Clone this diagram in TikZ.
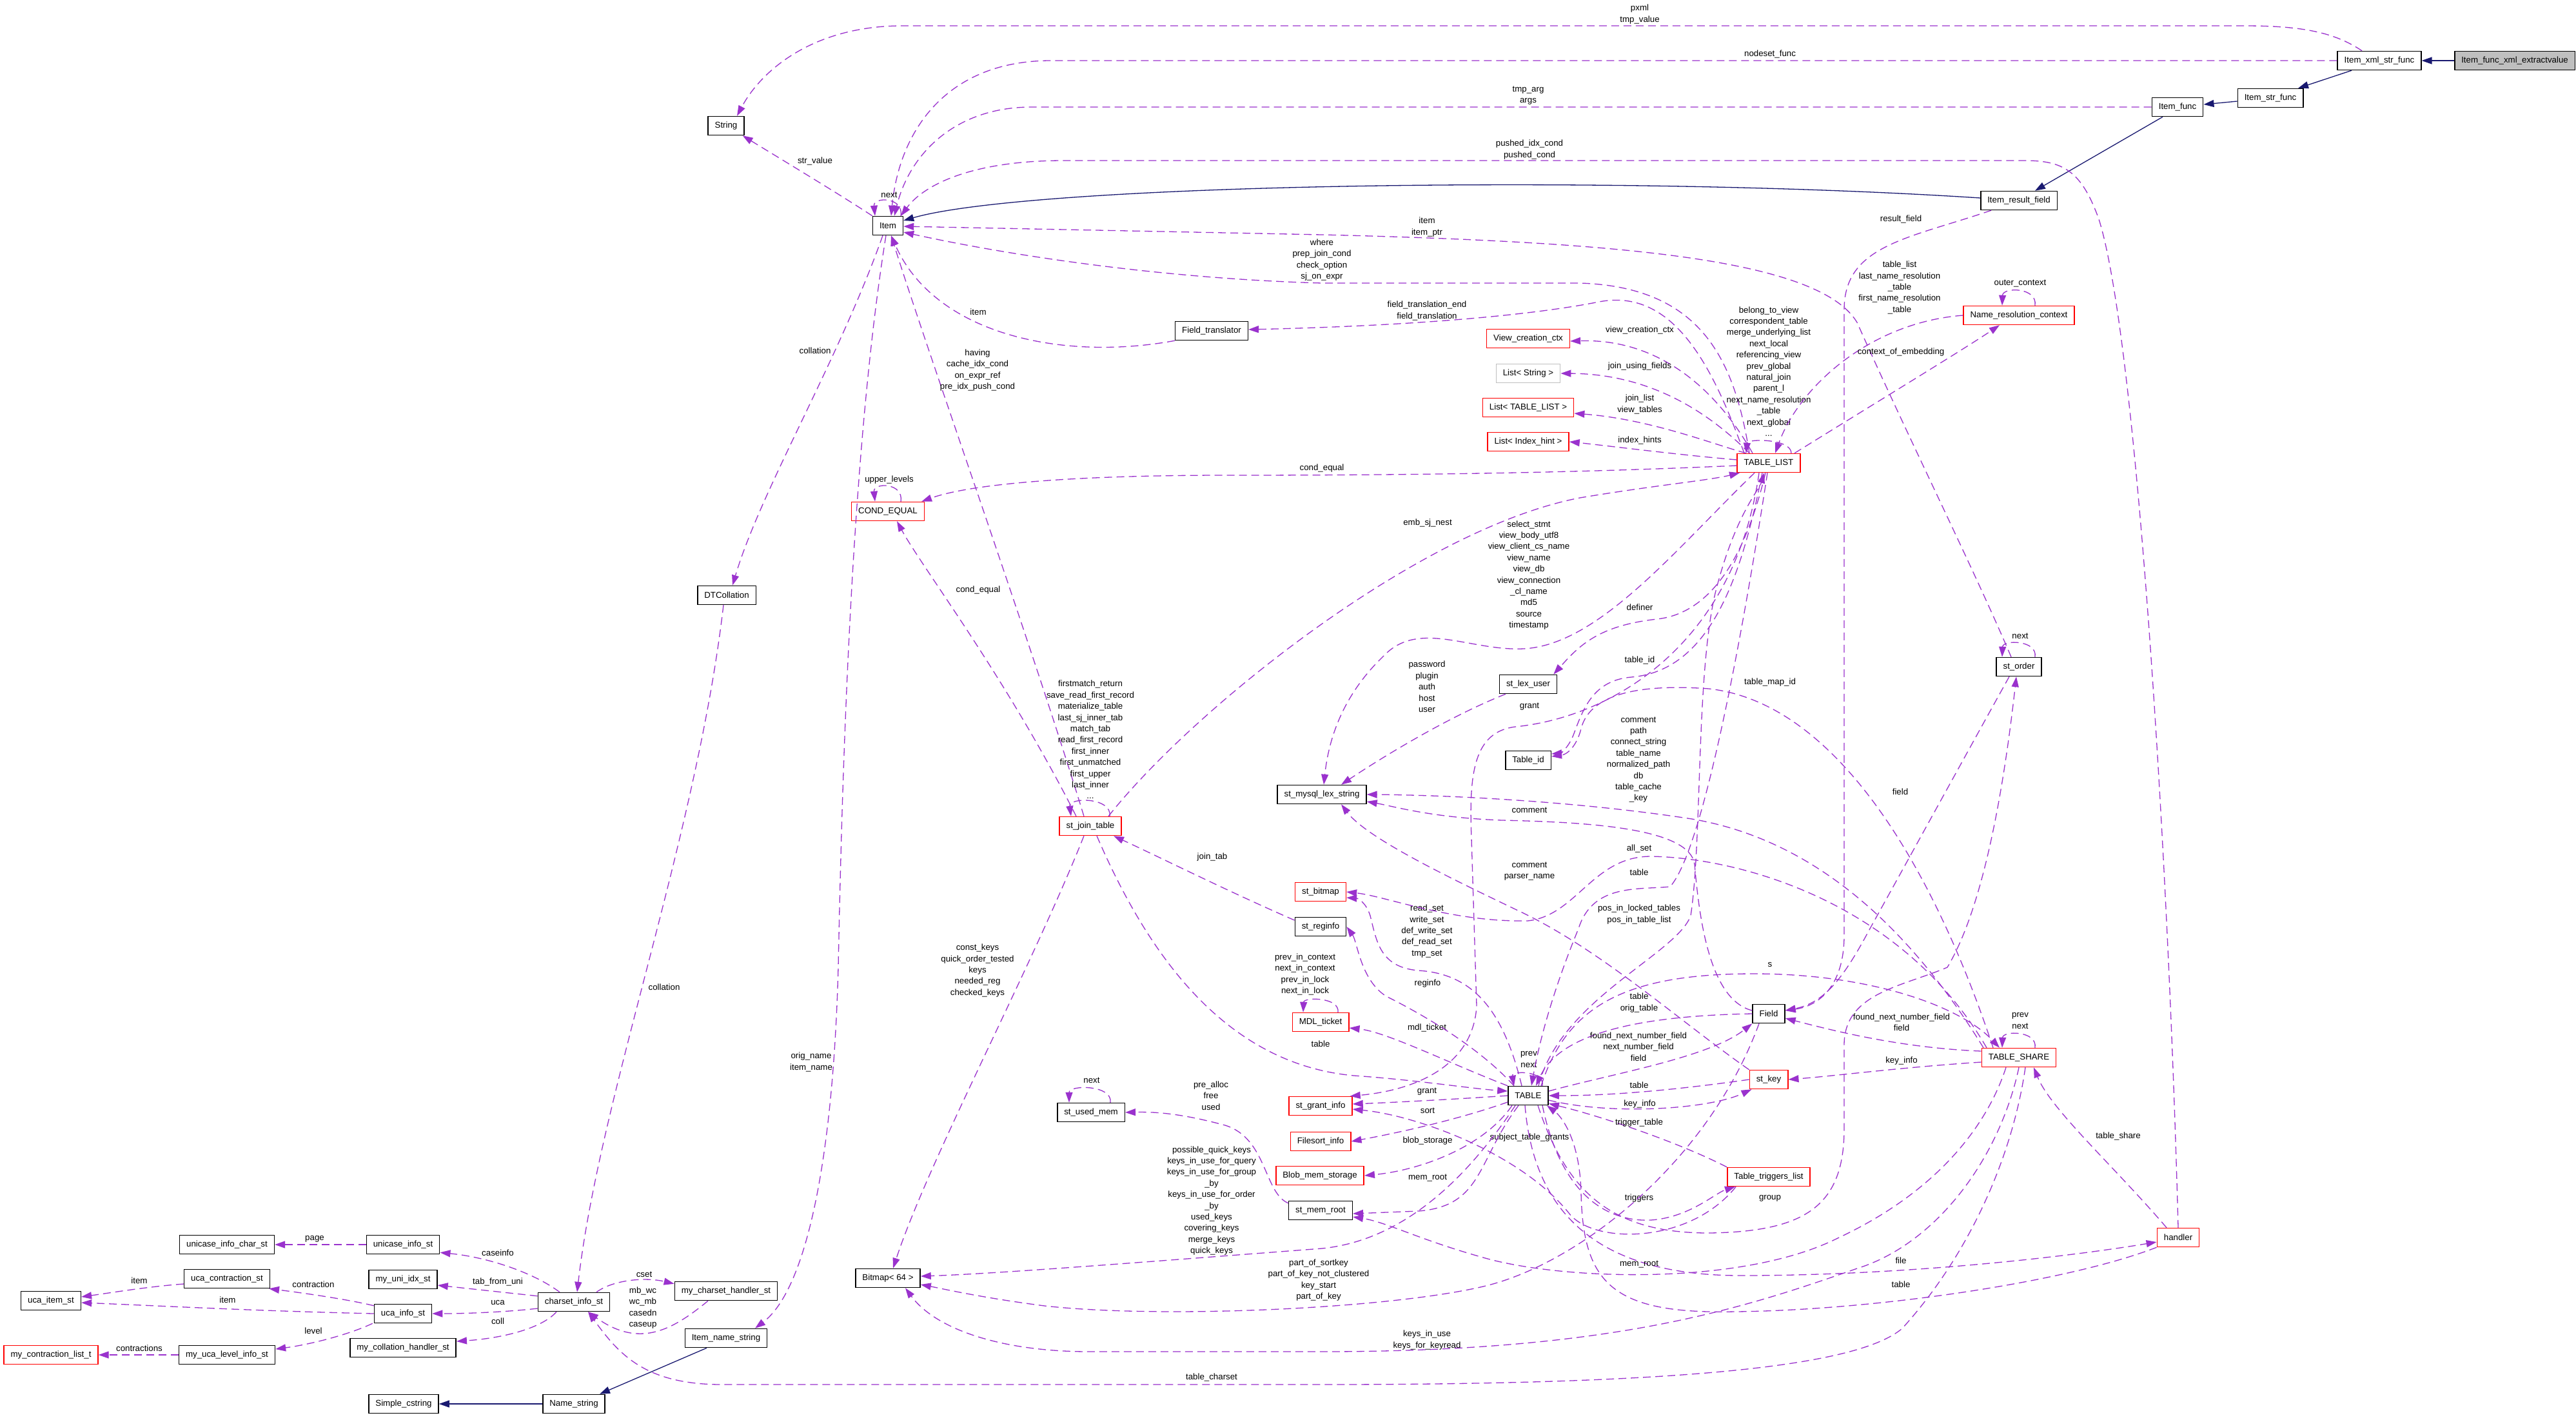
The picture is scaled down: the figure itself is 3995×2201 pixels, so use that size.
\documentclass[tikz,border=0pt]{standalone}
\usepackage{fontspec}
\setmainfont{Liberation Sans}
\usetikzlibrary{arrows.meta}
\definecolor{usec}{HTML}{9A32CD}
\definecolor{inhc}{HTML}{191970}
\definecolor{redc}{HTML}{FF0000}
\definecolor{grayc}{HTML}{BFBFBF}
\begin{document}
\begin{tikzpicture}[x=1pt,y=-1pt,
 every node/.style={font=\fontsize{13.3}{17.4}\selectfont},
 cls/.style={draw=black, fill=white, line width=1.5pt, minimum height=29pt, inner xsep=10.5pt, inner ysep=0pt},
 redcls/.style={cls, draw=redc},
 graycls/.style={cls, draw=grayc},
 rootcls/.style={cls, fill=grayc},
 lab/.style={align=center, inner sep=0pt, text=black},
 usage/.style={draw=usec, line width=1.3pt, dash pattern=on 12pt off 7pt, -{Triangle[length=16pt,width=11pt]}},
 inh/.style={draw=inhc, line width=1.3pt, -{Triangle[length=16pt,width=11pt]}},
]
\fill[white] (0,0) rectangle (3995,2201);
\useasboundingbox (0,0) rectangle (3995,2201);

% ---------------- nodes ----------------
\node[rootcls] (xmlext) at (3900,94) {Item\_func\_xml\_extractvalue};
\node[cls] (xmlstr) at (3690,94) {Item\_xml\_str\_func};
\node[cls] (strfunc) at (3521,152) {Item\_str\_func};
\node[cls] (func) at (3377,166) {Item\_func};
\node[cls] (resfield) at (3131,311) {Item\_result\_field};
\node[redcls] (nrc) at (3131,489) {Name\_resolution\_context};
\node[cls] (string) at (1126,195) {String};
\node[cls] (item) at (1377,350) {Item};
\node[cls] (ftrans) at (1879,513) {Field\_translator};
\node[redcls] (vcc) at (2370,525) {View\_creation\_ctx};
\node[graycls] (lstr) at (2370,579) {List< String >};
\node[redcls] (ltl) at (2370,632) {List< TABLE\_LIST >};
\node[redcls] (lih) at (2370,685) {List< Index\_hint >};
\node[redcls] (tl) at (2743,718) {TABLE\_LIST};
\node[redcls] (condeq) at (1377,793) {COND\_EQUAL};
\node[cls] (dtc) at (1127,923) {DTCollation};
\node[redcls] (sjt) at (1691,1281) {st\_join\_table};
\node[cls] (lexuser) at (2370,1061) {st\_lex\_user};
\node[cls] (tableid) at (2370,1179) {Table\_id};
\node[cls] (lexstr) at (2050,1232) {st\_mysql\_lex\_string};
\node[redcls] (bitmap) at (2048,1383) {st\_bitmap};
\node[cls] (reginfo) at (2048,1437) {st\_reginfo};
\node[redcls] (mdl) at (2048,1585) {MDL\_ticket};
\node[redcls] (grantinfo) at (2048,1715) {st\_grant\_info};
\node[redcls] (filesort) at (2048,1770) {Filesort\_info};
\node[redcls] (blob) at (2047,1823) {Blob\_mem\_storage};
\node[cls] (memroot) at (2048,1877) {st\_mem\_root};
\node[cls] (usedmem) at (1692,1725) {st\_used\_mem};
\node[cls] (bitmap64) at (1377,1982) {Bitmap< 64 >};
\node[cls] (mycsh) at (1126,2002) {my\_charset\_handler\_st};
\node[cls] (itemname) at (1126,2075) {Item\_name\_string};
\node[cls] (namestr) at (890,2177) {Name\_string};
\node[cls] (simplec) at (626,2177) {Simple\_cstring};
\node[cls] (csinfo) at (890,2019) {charset\_info\_st};
\node[cls] (unicase) at (625,1930) {unicase\_info\_st};
\node[cls] (unicasechar) at (352,1930) {unicase\_info\_char\_st};
\node[cls] (uniidx) at (625,1984) {my\_uni\_idx\_st};
\node[cls] (ucacontr) at (352,1983) {uca\_contraction\_st};
\node[cls] (ucaitem) at (79,2017) {uca\_item\_st};
\node[cls] (ucainfo) at (625,2037) {uca\_info\_st};
\node[cls] (mycoll) at (625,2090) {my\_collation\_handler\_st};
\node[cls] (ucalevel) at (352,2101) {my\_uca\_level\_info\_st};
\node[redcls] (contrlist) at (79,2101) {my\_contraction\_list\_t};
\node[cls] (order) at (3131,1034) {st\_order};
\node[cls] (field) at (2743,1572) {Field};
\node[redcls] (stkey) at (2743,1674) {st\_key};
\node[redcls] (trig) at (2743,1825) {Table\_triggers\_list};
\node[cls] (table) at (2370,1699) {TABLE};
\node[redcls] (tshare) at (3131,1640) {TABLE\_SHARE};
\node[redcls] (handler) at (3378,1919) {handler};

% ---------------- inheritance ----------------
\draw[inh] (xmlext.west) -- (xmlstr.east);
\draw[inh] ([xshift=-43pt]xmlstr.south) -- ([xshift=43pt]strfunc.north);
\draw[inh] ([yshift=-5pt]strfunc.west) -- ([yshift=4pt]func.east);
\draw[inh] ([xshift=-23pt]func.south) -- ([xshift=25pt]resfield.north);
\draw[inh] ([yshift=4pt]resfield.west) .. controls (2500,270) and (1600,285) .. ([yshift=8pt]item.east);
\draw[inh] ([xshift=-30pt]itemname.south) -- ([xshift=40pt]namestr.north);
\draw[inh] (namestr.west) -- (simplec.east);

% ---------------- usage ----------------
\draw[usage] ([xshift=-27pt]xmlstr.north) .. controls (3620,50) and (3570,40) .. (3480,40) -- (1400,40) .. controls (1260,40) and (1180,110) .. ([xshift=17pt]string.north);
\node[lab] (l1) at (2543,22) {pxml\\tmp\_value};

\draw[usage] (xmlstr.west) -- (1630,94) .. controls (1470,94) and (1395,200) .. ([xshift=5pt]item.north);
\node[lab] (l2) at (2745,84) {nodeset\_func};

\draw[usage] (func.west) -- (1600,166) .. controls (1480,166) and (1410,240) .. ([xshift=10pt]item.north);
\node[lab] (l3) at (2370,148) {tmp\_arg\\args};

\draw[usage] (handler.north) .. controls (3362,1300) and (3312,520) .. (3255,340) .. controls (3228,265) and (3200,249) .. (3140,249) -- (1650,249) .. controls (1500,249) and (1430,290) .. ([xshift=-4pt]item.north east);
\node[lab] (l4) at (2372,232) {pushed\_idx\_cond\\pushed\_cond};

\draw[usage] ([xshift=-30pt]tl.north) .. controls (2690,560) and (2640,445) .. (2450,439) -- (2050,439) .. controls (1800,432) and (1560,395) .. ([yshift=-10pt]item.east);
\node[lab] (l5) at (2050,403) {where\\prep\_join\_cond\\check\_option\\sj\_on\_expr};

\draw[usage] ([xshift=-12pt]order.north) .. controls (3060,880) and (2960,680) .. (2880,500) .. controls (2820,400) and (2500,375) .. (2050,364) -- ([yshift=-1pt]item.east);
\node[lab] (l6) at (2213,352) {item\\item\_ptr};

\draw[usage] (ftrans.south west) .. controls (1650,560) and (1450,520) .. ([xshift=5pt]item.south);
\node[lab] (l7) at (1517,484) {item};

\draw[usage] ([xshift=-38pt]tl.north) .. controls (2660,580) and (2600,445) .. (2480,468) .. controls (2380,488) and (2200,505) .. ([yshift=2pt]ftrans.east);
\node[lab] (l8) at (2213,482) {field\_translation\_end\\field\_translation};

\draw[usage] ([xshift=-10pt]sjt.north) .. controls (1600,1000) and (1440,550) .. ([xshift=5pt]item.south);
\node[lab] (l9) at (1516,574) {having\\cache\_idx\_cond\\on\_expr\_ref\\pre\_idx\_push\_cond};

\draw[usage] ([xshift=-8pt]item.south) .. controls (1300,560) and (1180,760) .. ([xshift=9pt]dtc.north);
\node[lab] (l10) at (1264,544) {collation};

\draw[usage] ([xshift=20pt]item.north) .. controls (1402,305) and (1354,305) .. ([xshift=-20pt]item.north);
\node[lab] (l11) at (1379,302) {next};

\draw[usage] ([xshift=20pt]condeq.north) .. controls (1402,748) and (1354,748) .. ([xshift=-20pt]condeq.north);
\node[lab] (l12) at (1379,744) {upper\_levels};

\draw[usage] ([yshift=-4pt]tl.west) .. controls (2450,733) and (2200,737) .. (1900,737) .. controls (1650,737) and (1500,752) .. ([xshift=-5pt]condeq.north east);
\node[lab] (l13) at (2050,726) {cond\_equal};

\draw[usage] ([xshift=-22pt]sjt.north) .. controls (1560,1050) and (1430,880) .. ([xshift=14pt]condeq.south);
\node[lab] (l14) at (1517,915) {cond\_equal};

\draw[usage] ([xshift=28pt]sjt.north) .. controls (1850,1100) and (2200,820) .. (2450,772) .. controls (2570,752) and (2650,745) .. ([xshift=-45pt]tl.south);
\node[lab] (l15) at (2214,811) {emb\_sj\_nest};

\draw[usage] ([xshift=30pt]sjt.north) .. controls (1725,1236) and (1657,1236) .. ([xshift=-30pt]sjt.north);
\node[lab] (l16) at (1691,1147) {firstmatch\_return\\save\_read\_first\_record\\materialize\_table\\last\_sj\_inner\_tab\\match\_tab\\read\_first\_record\\first\_inner\\first\_unmatched\\first\_upper\\last\_inner\\...};

\draw[usage] ([yshift=10pt]reginfo.west) .. controls (1900,1380) and (1800,1330) .. ([xshift=36pt]sjt.south);
\node[lab] (l17) at (1880,1329) {join\_tab};

\draw[usage] ([xshift=10pt]sjt.south) .. controls (1780,1480) and (1900,1650) .. (2100,1668) .. controls (2200,1675) and (2280,1688) .. ([yshift=7pt]table.west);
\node[lab] (l18) at (2048,1619) {table};

\draw[usage] ([xshift=-10pt]sjt.south) .. controls (1600,1500) and (1440,1800) .. ([xshift=8pt]bitmap64.north);
\node[lab] (l19) at (1516,1505) {const\_keys\\quick\_order\_tested\\keys\\needed\_reg\\checked\_keys};

\draw[usage] ([xshift=-3pt]item.south) .. controls (1320,700) and (1306,1200) .. (1300,1500) .. controls (1292,1800) and (1250,2000) .. ([xshift=45pt]itemname.north);
\node[lab] (l20) at (1258,1647) {orig\_name\\item\_name};

\draw[usage] ([xshift=-5pt]dtc.south) .. controls (1080,1300) and (930,1700) .. ([xshift=5pt]csinfo.north);
\node[lab] (l21) at (1030,1531) {collation};

\draw[usage] (item.north west) .. controls (1300,300) and (1200,240) .. ([xshift=-3pt]string.south east);
\node[lab] (l22) at (1264,250) {str\_value};

\draw[usage] ([xshift=35pt]csinfo.north) .. controls (950,1985) and (1000,1980) .. ([yshift=-4pt]mycsh.north west);
\node[lab] (l23) at (999,1976) {cset};

\draw[usage] ([xshift=-28pt]mycsh.south) .. controls (1040,2065) and (990,2090) .. ([xshift=22pt]csinfo.south);
\node[lab] (l24) at (997,2028) {mb\_wc\\wc\_mb\\casedn\\caseup};

\draw[usage] ([xshift=10pt]tshare.south) .. controls (3120,1800) and (3050,1950) .. (2950,2060) .. controls (2880,2120) and (2600,2147) .. (2050,2147) -- (1120,2147) .. controls (1000,2147) and (960,2100) .. ([xshift=22pt]csinfo.south);
\node[lab] (l25) at (1879,2136) {table\_charset};

\draw[usage] ([xshift=-22pt]csinfo.north) .. controls (830,1975) and (760,1950) .. ([yshift=3pt]unicase.south east);
\node[lab] (l26) at (772,1943) {caseinfo};

\draw[usage] (unicase.west) -- (unicasechar.east);
\node[lab] (l27) at (488,1921) {page};

\draw[usage] ([yshift=-6pt]csinfo.north west) -- ([yshift=-9pt]uniidx.east);
\node[lab] (l28) at (772,1988) {tab\_from\_uni};

\draw[usage] ([yshift=-10pt]csinfo.west) .. controls (780,2035) and (720,2037) .. (ucainfo.east);
\node[lab] (l29) at (772,2020) {uca};

\draw[usage] ([xshift=-27pt]csinfo.south) .. controls (840,2060) and (780,2075) .. ([yshift=10pt]mycoll.east);
\node[lab] (l30) at (772,2049) {coll};

\draw[usage] ([yshift=-3pt]ucainfo.north west) .. controls (540,2015) and (470,2005) .. ([xshift=-2pt]ucacontr.south east);
\node[lab] (l31) at (486,1992) {contraction};

\draw[usage] (ucainfo.west) .. controls (400,2033) and (250,2025) .. ([yshift=-3pt]ucaitem.east);
\node[lab] (l32) at (353,2016) {item};

\draw[usage] ([yshift=-8pt]ucacontr.west) .. controls (230,1995) and (170,2005) .. ([yshift=6pt]ucaitem.east);
\node[lab] (l33) at (216,1986) {item};

\draw[usage] ([xshift=-2pt]ucainfo.south west) .. controls (540,2070) and (480,2085) .. ([yshift=9pt]ucalevel.east);
\node[lab] (l34) at (486,2064) {level};

\draw[usage] (ucalevel.west) -- (contrlist.east);
\node[lab] (l35) at (216,2091) {contractions};

\draw[usage] ([xshift=35pt]tl.north) .. controls (2778,680) and (2710,680) .. ([xshift=-35pt]tl.north);
\node[lab] (l38) at (2743,576) {belong\_to\_view\\correspondent\_table\\merge\_underlying\_list\\next\_local\\referencing\_view\\prev\_global\\natural\_join\\parent\_l\\next\_name\_resolution\\\_table\\next\_global\\...};

\draw[usage] ([xshift=-25pt]tl.north) .. controls (2660,600) and (2570,525) .. ([yshift=-4pt]vcc.east);
\node[lab] (l39) at (2543,512) {view\_creation\_ctx};

\draw[usage] ([xshift=-30pt]tl.north) .. controls (2660,650) and (2570,580) .. (lstr.east);
\node[lab] (l40) at (2543,568) {join\_using\_fields};

\draw[usage] ([xshift=-35pt]tl.north) .. controls (2660,690) and (2560,650) .. ([yshift=-9pt]ltl.east);
\node[lab] (l41) at (2543,627) {join\_list\\view\_tables};

\draw[usage] ([yshift=5pt]tl.west) .. controls (2600,705) and (2500,692) .. (lih.east);
\node[lab] (l42) at (2543,683) {index\_hints};

\draw[usage] (nrc.west) .. controls (2900,500) and (2790,600) .. ([xshift=10pt]tl.north);
\node[lab] (l43) at (2946,446) {table\_list\\last\_name\_resolution\\\_table\\first\_name\_resolution\\\_table};

\draw[usage] ([xshift=40pt]tl.north) .. controls (2900,630) and (3040,545) .. ([xshift=-30pt]nrc.south);
\node[lab] (l44) at (2948,546) {context\_of\_embedding};

\draw[usage] ([xshift=25pt]nrc.north) .. controls (3160,445) and (3106,445) .. ([xshift=-26pt]nrc.north);
\node[lab] (l45) at (3133,440) {outer\_context};

\draw[usage] ([xshift=-43pt]resfield.south) .. controls (2960,370) and (2860,380) .. (2860,480) -- (2860,1450) .. controls (2860,1530) and (2820,1560) .. ([yshift=5pt]field.east);
\node[lab] (l46) at (2948,340) {result\_field};

\draw[usage] ([xshift=-15pt]order.south) .. controls (3060,1150) and (2950,1350) .. (2900,1440) .. controls (2860,1515) and (2830,1555) .. ([yshift=5pt]field.east);
\node[lab] (l47) at (2947,1228) {field};

\draw[usage] ([yshift=10pt]tshare.west) .. controls (2950,1625) and (2850,1600) .. ([yshift=-7pt]field.east);
\node[lab] (l48) at (2949,1585) {found\_next\_number\_field\\field};

\draw[usage] ([xshift=25pt]order.north) .. controls (3160,992) and (3106,992) .. ([xshift=-26pt]order.north);
\node[lab] (l49) at (3133,986) {next};

\draw[usage] ([xshift=15pt]table.south) .. controls (2430,1850) and (2500,1912) .. (2650,1912) .. controls (2800,1910) and (2860,1870) .. (2860,1750) -- (2860,1620) .. controls (2860,1540) and (2950,1530) .. (3020,1500) .. controls (3080,1400) and (3110,1200) .. ([xshift=-4pt]order.south);
\node[lab] (l50) at (2745,1858) {group};

\draw[usage] ([xshift=20pt]table.north) .. controls (2430,1560) and (2520,1510) .. (2720,1510) .. controls (2900,1510) and (3040,1560) .. ([xshift=-30pt]tshare.north);
\node[lab] (l51) at (2745,1496) {s};

\draw[usage] ([xshift=25pt]tshare.north) .. controls (3160,1598) and (3106,1598) .. ([xshift=-26pt]tshare.north);
\node[lab] (l52) at (3133,1583) {prev\\next};

\draw[usage] ([xshift=22pt]table.north) .. controls (2396,1660) and (2344,1660) .. ([xshift=-22pt]table.north);
\node[lab] (l53) at (2371,1643) {prev\\next};

\draw[usage] (field.west) .. controls (2550,1575) and (2420,1600) .. ([xshift=12pt]table.north);
\node[lab] (l54) at (2542,1555) {table\\orig\_table};

\draw[usage] ([yshift=7pt]table.east) .. controls (2500,1665) and (2650,1640) .. (field.south west);
\node[lab] (l55) at (2541,1623) {found\_next\_number\_field\\next\_number\_field\\field};

\draw[usage] (stkey.west) .. controls (2600,1690) and (2500,1699) .. (table.east);
\node[lab] (l56) at (2542,1683) {table};

\draw[usage] ([yshift=-7pt]table.east) .. controls (2500,1730) and (2650,1720) .. ([xshift=4pt]stkey.south west);
\node[lab] (l57) at (2543,1712) {key\_info};

\draw[usage] ([yshift=-7pt]tshare.west) .. controls (2950,1655) and (2850,1668) .. (stkey.east);
\node[lab] (l58) at (2949,1645) {key\_info};

\draw[usage] (trig.north west) .. controls (2600,1770) and (2480,1730) .. ([yshift=3pt]table.south east);
\node[lab] (l59) at (2542,1741) {trigger\_table};

\draw[usage] ([xshift=22pt]table.south) .. controls (2420,1850) and (2490,1895) .. (2560,1892) .. controls (2620,1888) and (2660,1850) .. ([xshift=-52pt]trig.south);
\node[lab] (l60) at (2542,1858) {triggers};

\draw[usage] ([xshift=14pt]trig.south west) .. controls (2620,1930) and (2470,1930) .. (2433,1881) .. controls (2360,1790) and (2200,1730) .. ([yshift=-5pt]grantinfo.east);
\node[lab] (l61) at (2372,1764) {subject\_table\_grants};

\draw[usage] (table.west) .. controls (2250,1705) and (2150,1710) .. ([yshift=3pt]grantinfo.east);
\node[lab] (l62) at (2213,1693) {grant};

\draw[usage] ([xshift=-15pt]tl.south) .. controls (2690,1000) and (2500,1112) .. (2350,1127) .. controls (2285,1135) and (2278,1200) .. (2282,1300) -- (2290,1560) .. controls (2285,1650) and (2200,1690) .. ([xshift=-4pt]grantinfo.north east);
\node[lab] (l63) at (2372,1096) {grant};

\draw[usage] ([yshift=-10pt]table.west) .. controls (2250,1740) and (2150,1760) .. (filesort.east);
\node[lab] (l64) at (2214,1722) {sort};

\draw[usage] ([xshift=-25pt]table.south) .. controls (2300,1780) and (2200,1815) .. (blob.east);
\node[lab] (l65) at (2214,1769) {blob\_storage};

\draw[usage] ([xshift=-15pt]table.south) .. controls (2290,1800) and (2300,1870) .. (2200,1878) -- ([yshift=-5pt]memroot.east);
\node[lab] (l66) at (2214,1826) {mem\_root};

\draw[usage] (table.north west) .. controls (2250,1650) and (2150,1600) .. ([yshift=-9pt]mdl.east);
\node[lab] (l67) at (2213,1594) {mdl\_ticket};

\draw[usage] ([xshift=-22pt]table.north) .. controls (2290,1620) and (2200,1570) .. (2150,1545) .. controls (2110,1520) and (2105,1460) .. (reginfo.east);
\node[lab] (l68) at (2214,1525) {reginfo};

\draw[usage] ([xshift=-10pt]table.north) .. controls (2330,1560) and (2280,1510) .. (2200,1505) .. controls (2140,1500) and (2135,1460) .. (2125,1420) .. controls (2118,1398) and (2105,1393) .. ([yshift=-9pt]bitmap.east);
\node[lab] (l69) at (2213,1444) {read\_set\\write\_set\\def\_write\_set\\def\_read\_set\\tmp\_set};

\draw[usage] ([xshift=-50pt]tshare.north) .. controls (2950,1400) and (2700,1330) .. (2560,1328) .. controls (2470,1328) and (2445,1420) .. (2369,1428) .. controls (2250,1430) and (2150,1390) .. (bitmap.east);
\node[lab] (l70) at (2542,1316) {all\_set};

\draw[usage] ([xshift=27pt]mdl.north) .. controls (2078,1546) and (2022,1546) .. ([xshift=-27pt]mdl.north);
\node[lab] (l71) at (2024,1511) {prev\_in\_context\\next\_in\_context\\prev\_in\_lock\\next\_in\_lock};

\draw[usage] ([yshift=-4pt]memroot.north west) .. controls (1960,1850) and (1965,1765) .. (1900,1745) .. controls (1830,1726) and (1790,1724) .. (usedmem.east);
\node[lab] (l72) at (1878,1699) {pre\_alloc\\free\\used};

\draw[usage] ([xshift=30pt]usedmem.north) .. controls (1726,1682) and (1658,1682) .. ([xshift=-34pt]usedmem.north);
\node[lab] (l73) at (1693,1675) {next};

\draw[usage] ([xshift=-20pt]table.south) .. controls (2260,1850) and (2160,1925) .. (2050,1936) .. controls (1800,1955) and (1550,1975) .. ([yshift=3pt]bitmap64.east);
\node[lab] (l74) at (1879,1862) {possible\_quick\_keys\\keys\_in\_use\_for\_query\\keys\_in\_use\_for\_group\\\_by\\keys\_in\_use\_for\_order\\\_by\\used\_keys\\covering\_keys\\merge\_keys\\quick\_keys};

\draw[usage] ([xshift=-15pt]field.south) .. controls (2650,1800) and (2450,1960) .. (2300,1995) .. controls (2150,2030) and (1800,2045) .. (1620,2025) .. controls (1520,2012) and (1460,1998) .. ([yshift=-10pt]bitmap64.east);
\node[lab] (l75) at (2045,1985) {part\_of\_sortkey\\part\_of\_key\_not\_clustered\\key\_start\\part\_of\_key};

\draw[usage] (tshare.south) .. controls (3100,1800) and (3000,1930) .. (2880,1967) .. controls (2700,2030) and (2500,2096) .. (2050,2096) -- (1690,2096) .. controls (1550,2096) and (1450,2060) .. ([xshift=27pt]bitmap64.south);
\node[lab] (l76) at (2213,2078) {keys\_in\_use\\keys\_for\_keyread};

\draw[usage] ([xshift=-5pt]table.south) .. controls (2380,1900) and (2500,1978) .. (2700,1978) .. controls (2950,1978) and (3200,1950) .. ([yshift=-7pt]handler.west);
\node[lab] (l78) at (2948,1955) {file};

\draw[usage] (handler.south west) .. controls (3200,1990) and (2900,2032) .. (2690,2034) .. controls (2500,2038) and (2455,1990) .. (2452,1850) .. controls (2450,1765) and (2420,1730) .. ([xshift=-3pt]table.south east);
\node[lab] (l79) at (2948,1992) {table};

\draw[usage] ([xshift=-20pt]tshare.south) .. controls (3080,1750) and (3000,1850) .. (2850,1920) .. controls (2700,1995) and (2420,1985) .. (2300,1950) .. controls (2200,1922) and (2150,1895) .. ([yshift=-10pt]memroot.east);
\node[lab] (l80) at (2542,1960) {mem\_root};

\draw[usage] ([xshift=-18pt]handler.north) .. controls (3280,1810) and (3180,1720) .. ([xshift=23pt]tshare.south);
\node[lab] (l81) at (3285,1762) {table\_share};

\draw[usage] ([xshift=-5pt]tl.south) .. controls (2710,850) and (2660,950) .. (2570,960) .. controls (2480,970) and (2450,1000) .. ([xshift=-6pt]lexuser.north east);
\node[lab] (l83) at (2543,942) {definer};

\draw[usage] ([xshift=-22pt]tl.south) .. controls (2600,850) and (2480,1000) .. (2363,1006) .. controls (2280,1010) and (2200,960) .. (2146,1017) .. controls (2080,1080) and (2060,1150) .. ([xshift=3pt]lexstr.north);
\node[lab] (l84) at (2371,892) {select\_stmt\\view\_body\_utf8\\view\_client\_cs\_name\\view\_name\\view\_db\\view\_connection\\\_cl\_name\\md5\\source\\timestamp};

\draw[usage] ([xshift=-35pt]lexuser.south) .. controls (2250,1110) and (2150,1170) .. ([xshift=30pt]lexstr.north);
\node[lab] (l85) at (2213,1065) {password\\plugin\\auth\\host\\user};

\draw[usage] ([xshift=-10pt]tl.south) .. controls (2700,900) and (2650,1040) .. (2530,1050) .. controls (2470,1055) and (2455,1100) .. (2440,1140) .. controls (2432,1160) and (2420,1168) .. ([yshift=10pt]tableid.east);
\node[lab] (l86) at (2543,1024) {table\_id};

\draw[usage] ([xshift=-40pt]tshare.north) .. controls (3000,1350) and (2850,1090) .. (2650,1068) .. controls (2510,1058) and (2462,1090) .. (2452,1130) .. controls (2445,1158) and (2430,1170) .. ([yshift=6pt]tableid.east);
\node[lab] (l87) at (2745,1058) {table\_map\_id};

\draw[usage] ([xshift=-55pt]tshare.north) .. controls (2950,1420) and (2800,1300) .. (2624,1270) .. controls (2450,1243) and (2250,1233) .. (lexstr.east);
\node[lab] (l88) at (2541,1178) {comment\\path\\connect\_string\\table\_name\\normalized\_path\\db\\table\_cache\\\_key};

\draw[usage] ([yshift=5pt]field.west) .. controls (2650,1550) and (2635,1420) .. (2628,1340) .. controls (2620,1285) and (2470,1275) .. (2330,1272) .. controls (2220,1268) and (2160,1250) .. ([yshift=-11pt]lexstr.east);
\node[lab] (l89) at (2372,1256) {comment};

\draw[usage] (stkey.north west) .. controls (2600,1580) and (2480,1470) .. (2350,1410) .. controls (2250,1362) and (2120,1300) .. ([xshift=30pt]lexstr.south);
\node[lab] (l90) at (2372,1351) {comment\\parser\_name};

\draw[usage] ([xshift=16pt]table.north) .. controls (2420,1550) and (2600,1480) .. (2622,1420) .. controls (2640,1300) and (2630,1050) .. (2660,920) .. controls (2690,800) and (2728,760) .. ([xshift=-7pt]tl.south);
\node[lab] (l91) at (2542,1418) {pos\_in\_locked\_tables\\pos\_in\_table\_list};

\draw[usage] ([xshift=-2pt]tl.south) .. controls (2700,1000) and (2640,1320) .. (2590,1375) .. controls (2540,1380) and (2470,1370) .. (2448,1440) .. controls (2415,1520) and (2390,1600) .. ([xshift=5pt]table.north);
\node[lab] (l92) at (2542,1353) {table};

\end{tikzpicture}
\end{document}
